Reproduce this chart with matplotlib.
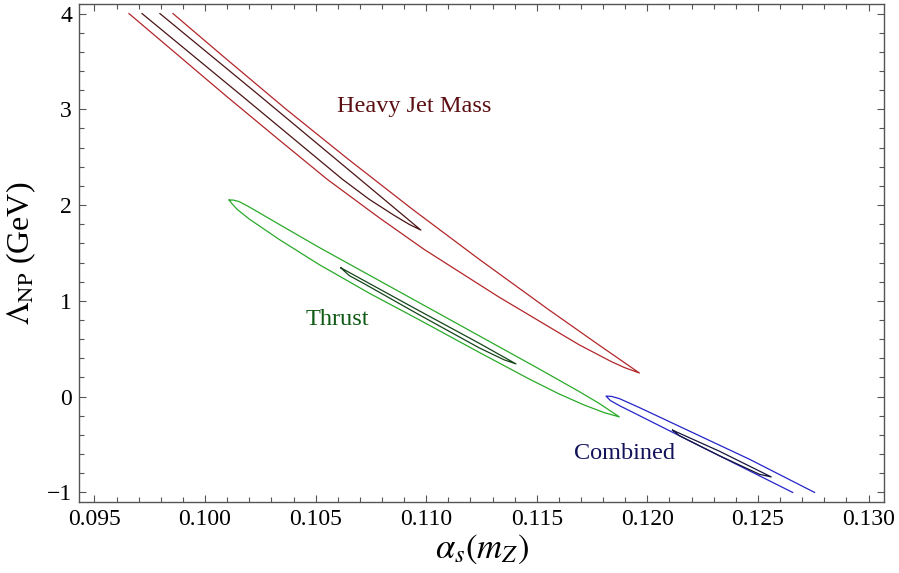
import numpy as np
import matplotlib
matplotlib.use('Agg')
import matplotlib.pyplot as plt
from matplotlib.ticker import MultipleLocator, FormatStrFormatter

# Fonts: Times-like serif everywhere
matplotlib.rcParams['font.family'] = ['Liberation Serif', 'DejaVu Serif']
matplotlib.rcParams['mathtext.fontset'] = 'stix'

# Contour outlines: (alpha_s, Lambda_NP)
# Heavy jet mass, outer contour (open at the top edge), both sides top -> tip
hjm_out_lo_x = [0.09656, 0.10095, 0.10330, 0.10552, 0.10787, 0.10991, 0.11326, 0.11552, 0.11692, 0.11837, 0.11896, 0.11964]
hjm_out_lo_y = [4.000, 3.140, 2.690, 2.270, 1.869, 1.537, 1.044, 0.733, 0.541, 0.366, 0.304, 0.247]
hjm_out_up_x = [0.09855, 0.10095, 0.10365, 0.10647, 0.10938, 0.11241, 0.11554, 0.11780, 0.11964]
hjm_out_up_y = [4.000, 3.528, 3.004, 2.480, 1.956, 1.432, 0.908, 0.541, 0.247]
# Heavy jet mass, inner contour
hjm_in_lo_x = [0.09715, 0.10167, 0.10621, 0.10742, 0.10855, 0.10923, 0.10976]
hjm_in_lo_y = [4.000, 3.140, 2.270, 2.061, 1.893, 1.799, 1.739]
hjm_in_up_x = [0.09796, 0.10244, 0.10697, 0.10976]
hjm_in_up_y = [4.000, 3.148, 2.277, 1.739]

# Thrust, outer contour, both sides left tip -> right tip
thr_out_up_x = [0.10109, 0.10127, 0.10154, 0.10199, 0.10335, 0.10516, 0.11014, 0.11511, 0.11692, 0.11783, 0.11873]
thr_out_up_y = [2.053, 2.053, 2.037, 1.982, 1.799, 1.558, 0.923, 0.289, 0.053, -0.072, -0.211]
thr_out_lo_x = [0.10109, 0.10122, 0.10145, 0.10199, 0.10335, 0.10516, 0.10742, 0.10968, 0.11240, 0.11466, 0.11602, 0.11715, 0.11805, 0.11873]
thr_out_lo_y = [2.053, 2.014, 1.956, 1.856, 1.642, 1.379, 1.081, 0.803, 0.462, 0.184, 0.027, -0.088, -0.167, -0.211]
# Thrust, inner contour
thr_in_up_x = [0.10614, 0.10968, 0.11240, 0.11406]
thr_in_up_y = [1.345, 0.897, 0.557, 0.342]
thr_in_lo_x = [0.10614, 0.10652, 0.10719, 0.10968, 0.11240, 0.11353, 0.11406]
thr_in_lo_y = [1.345, 1.264, 1.180, 0.855, 0.509, 0.384, 0.342]

# Combined, outer contour (open at the bottom edge), both sides tip -> bottom
cmb_out_up_x = [0.11813, 0.11837, 0.11873, 0.11964, 0.12235, 0.12462, 0.12756]
cmb_out_up_y = [0.006, 0.003, -0.020, -0.114, -0.408, -0.654, -1.000]
cmb_out_lo_x = [0.11813, 0.11833, 0.11873, 0.11964, 0.12235, 0.12657]
cmb_out_lo_y = [0.006, -0.041, -0.093, -0.198, -0.513, -1.000]
# Combined, inner contour
cmb_in_up_x = [0.12114, 0.12326, 0.12560]
cmb_in_up_y = [-0.350, -0.570, -0.838]
cmb_in_lo_x = [0.12114, 0.12145, 0.12326, 0.12507, 0.12560]
cmb_in_lo_y = [-0.350, -0.408, -0.617, -0.811, -0.838]

red, dred, redtxt = '#b2262a', '#4a1416', '#5c0f12'
grn, dgrn, grntxt = '#2aaa2a', '#16461a', '#0f5a14'
blu, dblu, blutxt = '#2424c8', '#16163e', '#12125a'

F1 = plt.figure(figsize=(8.99, 5.73), dpi=100)
ax = F1.add_axes([79/899, 71/573, 805/899, 498/573])

def outline(a_x, a_y, b_x, b_y):
    # walk along side a, then back along side b
    return list(a_x) + list(b_x[::-1]), list(a_y) + list(b_y[::-1])

lw = 0.9
x, y = outline(hjm_out_lo_x, hjm_out_lo_y, hjm_out_up_x, hjm_out_up_y)
ax.plot(x, y, '-', color=red, lw=lw)
x, y = outline(hjm_in_lo_x, hjm_in_lo_y, hjm_in_up_x, hjm_in_up_y)
ax.plot(x, y, '-', color=dred, lw=lw)
x, y = outline(thr_out_lo_x, thr_out_lo_y, thr_out_up_x, thr_out_up_y)
ax.plot(x, y, '-', color=grn, lw=lw)
x, y = outline(thr_in_lo_x, thr_in_lo_y, thr_in_up_x, thr_in_up_y)
ax.plot(x, y, '-', color=dgrn, lw=lw)
# open at the bottom: start at the lower end of one side, go through the tip
x, y = outline(cmb_out_lo_x[::-1], cmb_out_lo_y[::-1], cmb_out_up_x[::-1], cmb_out_up_y[::-1])
ax.plot(x, y, '-', color=blu, lw=lw)
x, y = outline(cmb_in_lo_x, cmb_in_lo_y, cmb_in_up_x, cmb_in_up_y)
ax.plot(x, y, '-', color=dblu, lw=lw)

fs = 17.5
ax.text(0.10946, 3.025, 'Heavy Jet Mass', color=redtxt, fontsize=fs, ha='center', va='center')
ax.text(0.10597, 0.803, 'Thrust', color=grntxt, fontsize=fs, ha='center', va='center')
ax.text(0.11896, -0.591, 'Combined', color=blutxt, fontsize=fs, ha='center', va='center')

ax.set_xlim((0.0943, 0.1307))
ax.set_ylim((-1.1, 4.1))
ax.xaxis.set_major_locator(MultipleLocator(0.005))
ax.xaxis.set_minor_locator(MultipleLocator(0.001))
ax.xaxis.set_major_formatter(FormatStrFormatter('%.3f'))
ax.yaxis.set_major_locator(MultipleLocator(1))
ax.yaxis.set_minor_locator(MultipleLocator(0.2))

for axis in ['top', 'bottom', 'left', 'right']:
    ax.spines[axis].set_linewidth(1.0)
    ax.spines[axis].set_color('#555555')
ax.tick_params(which='both', direction='in', top=True, right=True, color='#555555', width=0.8)
ax.tick_params(which='major', length=5, labelsize=17, pad=5)
ax.tick_params(which='minor', length=3.5)

ax.set_xlabel(r'$\alpha_s(m_Z)$', fontsize=25, labelpad=2)
ax.set_ylabel(r'$\mathit{\Lambda}_{\mathrm{NP}}$ (GeV)', fontsize=23, labelpad=6)

plt.savefig('out.png', dpi=100)
